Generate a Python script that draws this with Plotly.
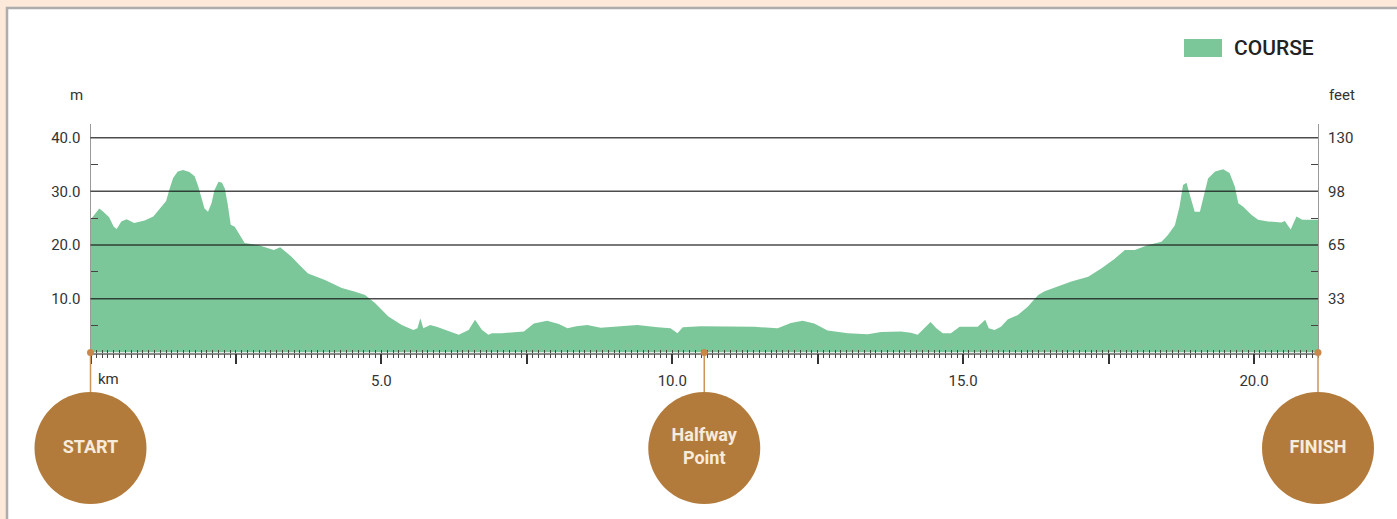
import plotly.graph_objects as go

# ---------------- data ----------------
km = [0.00, 0.15, 0.22, 0.32, 0.40, 0.45, 0.53, 0.62, 0.75, 0.93, 1.08, 1.22, 1.30, 1.36, 1.42,
      1.50, 1.59, 1.70, 1.79, 1.85, 1.91, 1.96, 2.02, 2.08, 2.13, 2.20, 2.26, 2.31, 2.36, 2.41,
      2.48, 2.56, 2.65, 2.88, 3.08, 3.15, 3.26, 3.46, 3.60, 3.74, 4.03, 4.32, 4.55, 4.72, 4.89,
      5.00, 5.12, 5.35, 5.55, 5.62, 5.67, 5.72, 5.84, 5.95, 6.12, 6.33, 6.50, 6.61, 6.73, 6.84,
      6.90, 7.07, 7.45, 7.62, 7.85, 8.05, 8.20, 8.35, 8.54, 8.77, 9.11, 9.40, 9.75, 9.97, 10.09,
      10.18, 10.49, 10.95, 11.41, 11.81, 12.04, 12.24, 12.44, 12.67, 13.02, 13.36, 13.59, 13.93,
      14.10, 14.22, 14.33, 14.44, 14.54, 14.65, 14.79, 14.94, 15.08, 15.25, 15.38, 15.44, 15.54,
      15.65, 15.77, 15.94, 16.11, 16.29, 16.40, 16.63, 16.86, 17.15, 17.38, 17.60, 17.78, 17.95,
      18.18, 18.41, 18.52, 18.64, 18.72, 18.78, 18.84, 18.89, 18.98, 19.07, 19.15, 19.21, 19.33,
      19.47, 19.58, 19.67, 19.73, 19.81, 19.96, 20.07, 20.24, 20.47, 20.53, 20.63, 20.73, 20.83,
      21.10]
elevation_m = [24.7, 26.8, 26.2, 25.2, 23.4, 23.0, 24.4, 24.8, 24.1, 24.6, 25.3, 27.2, 28.2, 30.5, 32.5,
               33.7, 34.0, 33.6, 32.8, 31.0, 28.5, 26.8, 26.2, 27.8, 30.2, 31.8, 31.6, 30.5, 27.5, 23.8,
               23.4, 22.0, 20.4, 20.0, 19.4, 19.1, 19.6, 17.8, 16.2, 14.7, 13.5, 12.0, 11.3, 10.7, 9.2,
               8.0, 6.7, 5.1, 4.2, 4.5, 6.4, 4.5, 5.1, 4.8, 4.1, 3.3, 4.2, 6.1, 4.2, 3.3,
               3.6, 3.6, 3.9, 5.4, 5.9, 5.3, 4.5, 4.9, 5.1, 4.6, 4.9, 5.1, 4.7, 4.5, 3.6,
               4.7, 4.9, 4.8, 4.8, 4.5, 5.5, 5.9, 5.4, 4.1, 3.6, 3.4, 3.8, 3.9,
               3.7, 3.3, 4.5, 5.7, 4.5, 3.6, 3.6, 4.8, 4.8, 4.8, 6.1, 4.5, 4.2,
               4.8, 6.2, 7.0, 8.5, 10.7, 11.4, 12.3, 13.2, 14.1, 15.7, 17.4, 19.1, 19.1,
               20.0, 20.6, 21.9, 23.7, 27.2, 31.2, 31.6, 29.6, 26.2, 26.2, 29.6, 32.4, 33.7,
               34.1, 33.4, 30.9, 27.8, 27.2, 25.6, 24.7, 24.4, 24.2, 24.5, 22.9, 25.3, 24.7,
               24.7]

x_tickvals = [0, 2.5, 5, 7.5, 10, 12.5, 15, 17.5, 20]
x_ticktext = ["", "", "5.0", "", "10.0", "", "15.0", "", "20.0"]
y_tickvals = [10, 20, 30, 40]
y_ticktext_m = ["10.0", "20.0", "30.0", "40.0"]
y_ticktext_ft = ["33", "65", "98", "130"]
y_minor_vals = [5, 15, 25, 35]

marker_km = [0.0, 10.55, 21.1]
marker_labels = ["START", "Halfway<br>Point", "FINISH"]

# ---------------- layout geometry (pixels) ----------------
W, H = 1397, 519
PL, PR, PT, PB = 90.5, 1318.0, 123.7, 352.5   # plot area edges
X_MAX = 21.1
Y_MIN, Y_MAX = 0, 42.6
CIRCLE_Y = -17.8
sx = (PR - PL) / X_MAX
sy = (PB - PT) / (Y_MAX - Y_MIN)
x3_range = [-PL / sx, (W - PL) / sx]
y3_range = [-(H - PB) / sy, PB / sy]

def px(p):
    return p / W

def py(p):
    return 1 - p / H

GREEN = "#7cc79a"
BROWN = "#b27b3b"
TAN = "#c99658"
FONT = "Roboto"
TXT = "#333333"

fig = go.Figure()

fig.add_trace(go.Scatter(
    x=km, y=elevation_m, mode="lines", fill="tozeroy",
    line=dict(width=0, color=GREEN), fillcolor=GREEN,
    name="COURSE", showlegend=False, hoverinfo="x+y",
))

# invisible helpers so the secondary axes render
fig.add_trace(go.Scatter(x=[0], y=[0], yaxis="y2", mode="markers",
                         marker=dict(opacity=0), showlegend=False, hoverinfo="skip"))
fig.add_trace(go.Scatter(x=[0], y=[0], xaxis="x2", mode="markers",
                         marker=dict(opacity=0), showlegend=False, hoverinfo="skip"))

# connectors, dots and circles on a full-figure overlay subplot with matching scales
for k in marker_km:
    fig.add_trace(go.Scatter(
        x=[k, k], y=[0, CIRCLE_Y], xaxis="x3", yaxis="y3", mode="lines",
        line=dict(color=TAN, width=1.5), showlegend=False, hoverinfo="skip",
    ))
fig.add_trace(go.Scatter(
    x=marker_km, y=[0] * len(marker_km), xaxis="x3", yaxis="y3", mode="markers",
    marker=dict(size=7, color="#c9884a"), showlegend=False, hoverinfo="skip",
))
fig.add_trace(go.Scatter(
    x=marker_km, y=[CIRCLE_Y] * len(marker_km), xaxis="x3", yaxis="y3",
    mode="markers+text",
    marker=dict(size=112, color=BROWN, line=dict(width=0)),
    text=marker_labels, textposition="middle center",
    textfont=dict(family=FONT, size=18, color="#f7ecdc", weight="bold"),
    showlegend=False, hoverinfo="skip",
))

shapes = []
shapes.append(dict(type="rect", xref="paper", yref="paper",
                   x0=px(7), x1=1.02, y0=-0.02, y1=py(8),
                   fillcolor="white", line=dict(color="#adadad", width=2.5), layer="below"))
for v in y_tickvals:
    shapes.append(dict(type="line", xref="x domain", yref="y", x0=0, x1=1, y0=v, y1=v,
                       line=dict(color="rgba(25,25,25,0.78)", width=1.5), layer="above"))
shapes.append(dict(type="rect", xref="paper", yref="paper",
                   x0=px(1184), x1=px(1222), y0=py(57), y1=py(39),
                   fillcolor=GREEN, line=dict(width=0)))

annotations = [
    dict(text="COURSE", xref="paper", yref="paper", x=px(1232), y=py(48),
         xanchor="left", yanchor="middle", showarrow=False,
         font=dict(family=FONT, size=21, color="#222222", weight=500)),
    dict(text="m", xref="paper", yref="paper", x=px(76), y=py(95),
         xanchor="center", yanchor="middle", showarrow=False,
         font=dict(family=FONT, size=15, color=TXT)),
    dict(text="feet", xref="paper", yref="paper", x=px(1342), y=py(95),
         xanchor="center", yanchor="middle", showarrow=False,
         font=dict(family=FONT, size=15, color=TXT)),
    dict(text="km", xref="x", yref="paper", x=0, y=py(379), xshift=5,
         xanchor="left", yanchor="middle", showarrow=False,
         font=dict(family=FONT, size=15, color=TXT)),
]

tickfont = dict(family=FONT, size=15, color=TXT)
xdom = [px(PL), px(PR)]
ydom = [py(PB), py(PT)]

fig.update_layout(
    width=W, height=H,
    margin=dict(l=0, r=0, t=0, b=0),
    paper_bgcolor="#fde9da",
    plot_bgcolor="rgba(0,0,0,0)",
    shapes=shapes, annotations=annotations,
    showlegend=False,
    xaxis=dict(
        domain=xdom, anchor="y",
        range=[0, X_MAX], showgrid=False, zeroline=False,
        showline=True, linecolor="#8a8a8a", linewidth=1.5,
        tickmode="array", tickvals=x_tickvals, ticktext=x_ticktext,
        ticks="outside", ticklen=10, tickwidth=2, tickcolor=TXT,
        ticklabelstandoff=4,
        minor=dict(dtick=0.1, tick0=0, ticks="outside", ticklen=4, tickwidth=1, tickcolor="#444444"),
        tickfont=tickfont, layer="above traces", fixedrange=True,
    ),
    xaxis2=dict(
        domain=xdom, range=[0, X_MAX], overlaying="x", anchor="y", side="bottom",
        showgrid=False, zeroline=False, showline=False, showticklabels=False,
        tickmode="linear", dtick=0.1, tick0=0, ticks="inside", ticklen=3,
        tickwidth=1, tickcolor="#444444", layer="above traces", fixedrange=True,
    ),
    yaxis=dict(
        domain=ydom, anchor="x",
        range=[Y_MIN, Y_MAX], showgrid=False, zeroline=False,
        showline=True, linecolor="#9a9a9a", linewidth=1.2,
        tickmode="array", tickvals=y_tickvals, ticktext=y_ticktext_m,
        ticks="", ticklabelstandoff=6,
        minor=dict(tickmode="array", tickvals=y_minor_vals, ticks="inside",
                   ticklen=7, tickwidth=1.3, tickcolor="#444444"),
        tickfont=tickfont, layer="above traces", fixedrange=True,
    ),
    yaxis2=dict(
        domain=ydom, range=[Y_MIN, Y_MAX], overlaying="y", side="right", anchor="x",
        showgrid=False, zeroline=False,
        showline=True, linecolor="#9a9a9a", linewidth=1.2,
        tickmode="array", tickvals=y_tickvals, ticktext=y_ticktext_ft,
        ticks="", ticklabelstandoff=6,
        minor=dict(tickmode="array", tickvals=y_minor_vals, ticks="inside",
                   ticklen=7, tickwidth=1.3, tickcolor="#444444"),
        tickfont=tickfont, layer="above traces", fixedrange=True,
    ),
    xaxis3=dict(domain=[0, 1], anchor="y3", range=x3_range, visible=False, fixedrange=True),
    yaxis3=dict(domain=[0, 1], anchor="x3", range=y3_range, visible=False, fixedrange=True),
)

fig.write_html(
    "out.html",
    config={"displayModeBar": False},
    post_script="document.body.style.margin='0';document.body.style.background='#fde9da';",
)
